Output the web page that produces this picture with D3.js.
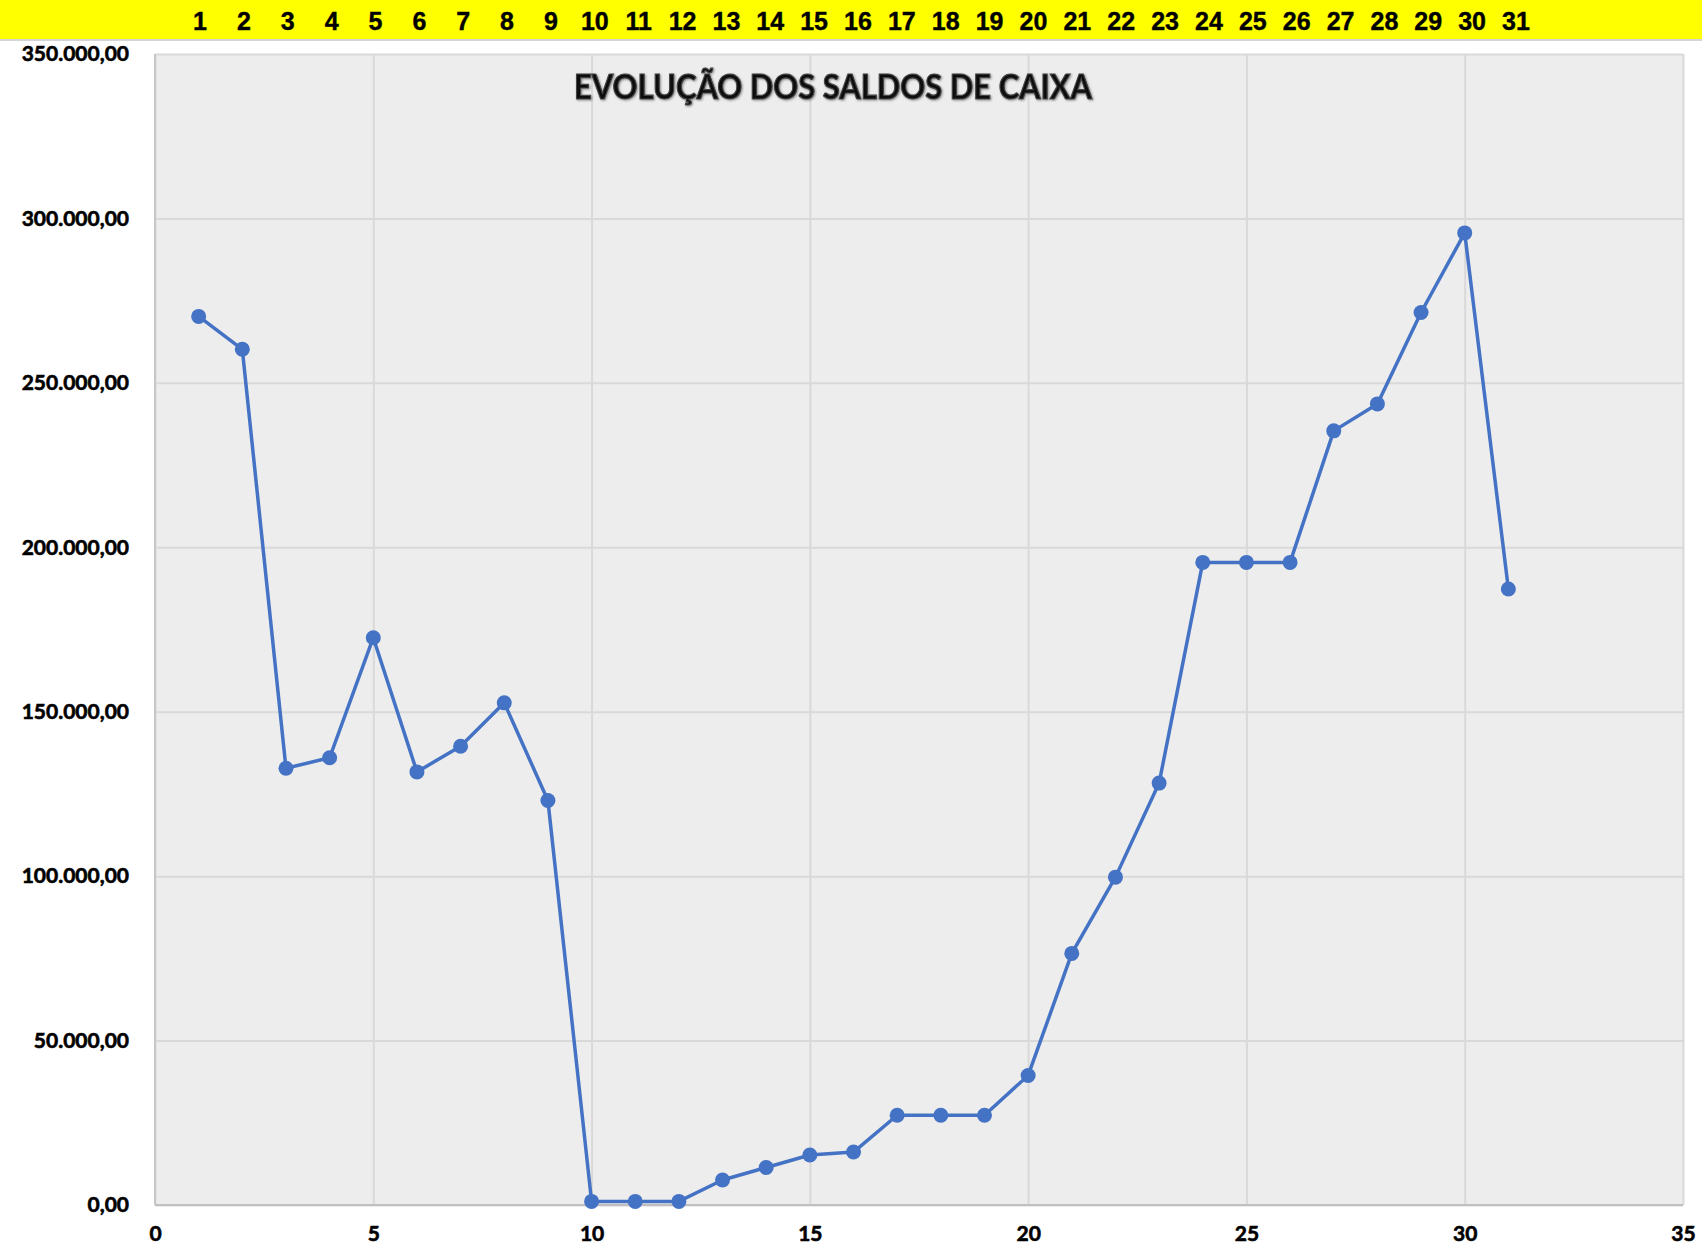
<!DOCTYPE html>
<html>
<head>
<meta charset="utf-8">
<script src="https://cdn.jsdelivr.net/npm/d3@7"></script>
<style>
  body { margin: 0; background: #fff; }
</style>
</head>
<body>
<div id="chart"></div>
<script>
const width = 1702, height = 1253;
const margin = {top: 54, right: 19, bottom: 48, left: 155};

// Days of the month and cash balance
const days = [1, 2, 3, 4, 5, 6, 7, 8, 9, 10, 11, 12, 13, 14, 15, 16,
              17, 18, 19, 20, 21, 22, 23, 24, 25, 26, 27, 28, 29, 30, 31];
const saldos = [270200, 260200, 132800, 136000, 172500, 131700, 139500, 152700, 123000,
                1100, 1100, 1100, 7600, 11400, 15200, 16100, 27300, 27300, 27300, 39400,
                76500, 99700, 128300, 195400, 195400, 195400, 235400, 243600, 271400, 295600, 187300];
const xTicks = [0, 5, 10, 15, 20, 25, 30, 35];
const yTicks = [0, 50000, 100000, 150000, 200000, 250000, 300000, 350000];
const title = "EVOLUÇÃO DOS SALDOS DE CAIXA";

const data = days.map((d, i) => ({day: d, saldo: saldos[i]}));

const ptBR = d3.formatLocale({decimal: ",", thousands: ".", grouping: [3], currency: ["R$", ""]});
const fmt = ptBR.format(",.2f");

const svg = d3.select('#chart').append('svg')
    .attr('width', width)
    .attr('height', height)
    .style('display', 'block');

const defs = svg.append('defs');
const shadow = defs.append('filter').attr('id', 'shadow')
    .attr('x', '-5%').attr('y', '-20%').attr('width', '110%').attr('height', '150%');
shadow.append('feDropShadow')
    .attr('dx', 1).attr('dy', 1).attr('stdDeviation', 1)
    .attr('flood-color', '#000').attr('flood-opacity', 0.4);

// yellow header row with day numbers
svg.append('rect')
    .attr('x', 0).attr('y', 0)
    .attr('width', width).attr('height', 39)
    .attr('fill', '#ffff00');
svg.append('line')
    .attr('x1', 0).attr('x2', width)
    .attr('y1', 40).attr('y2', 40)
    .attr('stroke', '#d4d4d4').attr('stroke-width', 2);

const xHeader = d3.scaleLinear()
    .domain([1, 31])
    .range([200, 1516]);

svg.append('g')
    .selectAll('text')
    .data(days)
    .enter().append('text')
    .attr('x', d => xHeader(d))
    .attr('y', 21)
    .attr('text-anchor', 'middle')
    .attr('dominant-baseline', 'central')
    .attr('font-family', '"Liberation Sans", Arial, sans-serif')
    .attr('font-weight', 'bold')
    .attr('font-size', 25)
    .attr('fill', '#000')
    .attr('stroke', '#000')
    .attr('stroke-width', 0.4)
    .text(d => d);

// scales
const x = d3.scaleLinear()
    .domain([0, 35])
    .range([margin.left, width - margin.right]);

const y = d3.scaleLinear()
    .domain([0, 350000])
    .range([height - margin.bottom, margin.top]);

// plot background
svg.append('rect')
    .attr('x', x(0)).attr('y', y(350000))
    .attr('width', x(35) - x(0))
    .attr('height', y(0) - y(350000))
    .attr('fill', '#ededed');

// gridlines via axes
const yGrid = svg.append('g')
    .attr('transform', `translate(${x(0)},0)`)
    .call(d3.axisLeft(y).tickValues(yTicks).tickSize(-(x(35) - x(0))).tickFormat(''));
yGrid.select('.domain').remove();
yGrid.selectAll('line').attr('stroke', '#d9d9d9').attr('stroke-width', 2);

const xGrid = svg.append('g')
    .attr('transform', `translate(0,${y(0)})`)
    .call(d3.axisBottom(x).tickValues(xTicks).tickSize(-(y(0) - y(350000))).tickFormat(''));
xGrid.select('.domain').remove();
xGrid.selectAll('line').attr('stroke', '#d9d9d9').attr('stroke-width', 2);

// axis lines
svg.append('line')
    .attr('x1', x(0)).attr('x2', x(35))
    .attr('y1', y(0)).attr('y2', y(0))
    .attr('stroke', '#bfbfbf').attr('stroke-width', 2);
svg.append('line')
    .attr('x1', x(0)).attr('x2', x(0))
    .attr('y1', y(0)).attr('y2', y(350000))
    .attr('stroke', '#c8c8c8').attr('stroke-width', 2);

// tick labels
const yAxis = svg.append('g')
    .attr('transform', `translate(${x(0) - 23},0)`)
    .call(d3.axisLeft(y).tickValues(yTicks).tickSize(0).tickFormat(fmt));
yAxis.select('.domain').remove();
yAxis.selectAll('text')
    .attr('font-family', 'Lato, "Open Sans", sans-serif')
    .attr('font-weight', 'bold')
    .attr('font-size', 21)
    .attr('fill', '#000')
    .attr('stroke', '#000')
    .attr('stroke-width', 0.6);

const xAxis = svg.append('g')
    .attr('transform', `translate(0,${y(0) + 18})`)
    .call(d3.axisBottom(x).tickValues(xTicks).tickSize(0).tickFormat(d3.format('d')));
xAxis.select('.domain').remove();
xAxis.selectAll('text')
    .attr('font-family', 'Lato, "Open Sans", sans-serif')
    .attr('font-weight', 'bold')
    .attr('font-size', 21)
    .attr('fill', '#000')
    .attr('stroke', '#000')
    .attr('stroke-width', 0.6);

// title
svg.append('text')
    .attr('x', 833)
    .attr('y', 85)
    .attr('text-anchor', 'middle')
    .attr('dominant-baseline', 'central')
    .attr('font-family', 'Lato, "Open Sans", sans-serif')
    .attr('font-weight', 'bold')
    .attr('font-size', 35)
    .attr('textLength', 518)
    .attr('lengthAdjust', 'spacingAndGlyphs')
    .attr('fill', '#111')
    .attr('stroke', '#444')
    .attr('stroke-width', 1.2)
    .attr('filter', 'url(#shadow)')
    .text(title);

// line + markers
const line = d3.line()
    .x(d => x(d.day))
    .y(d => y(d.saldo));

svg.append('path')
    .datum(data)
    .attr('fill', 'none')
    .attr('stroke', '#4472c4')
    .attr('stroke-width', 3.5)
    .attr('stroke-linejoin', 'round')
    .attr('d', line);

svg.append('g')
    .selectAll('circle')
    .data(data)
    .enter().append('circle')
    .attr('cx', d => x(d.day))
    .attr('cy', d => y(d.saldo))
    .attr('r', 7.5)
    .attr('fill', '#4472c4');
</script>
</body>
</html>
